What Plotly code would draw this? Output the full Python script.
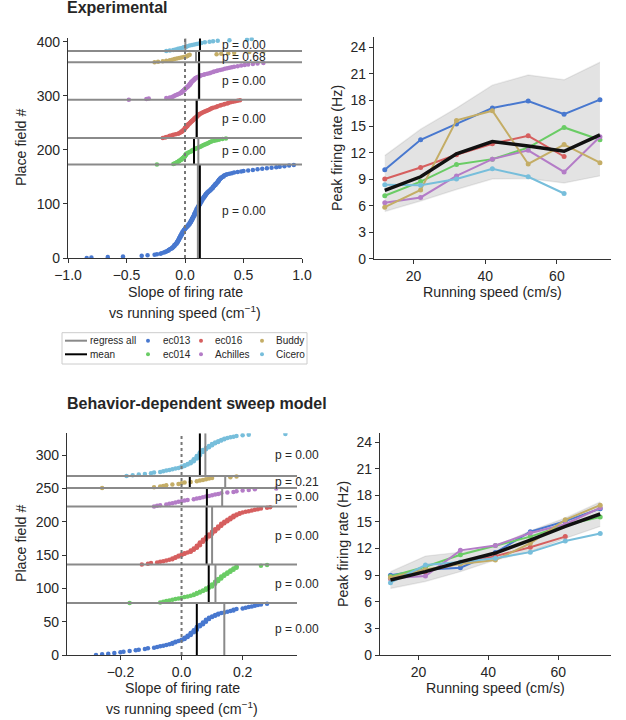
import plotly.graph_objects as go

W, H = 626, 720

animals = ["ec013", "ec014", "ec016", "Achilles", "Buddy", "Cicero"]
colors = ["#4878CF", "#6ACC65", "#D65F5F", "#B47CC7", "#C4AD66", "#77BEDB"]

# ---------------- Experimental: sorted slopes per animal ----------------
exp_ec013 = [-0.84, -0.80, -0.66, -0.53, -0.37, -0.32, -0.26, -0.24, -0.21, -0.20,
             -0.18, -0.17, -0.16, -0.15, -0.14, -0.14, -0.13, -0.12, -0.11, -0.11,
             -0.10, -0.10, -0.09, -0.09, -0.09, -0.08, -0.08, -0.07, -0.07, -0.07,
             -0.06, -0.06, -0.06, -0.06, -0.05, -0.05, -0.05, -0.05, -0.04, -0.04,
             -0.04, -0.04, -0.03, -0.03, -0.03, -0.03, -0.02, -0.02, -0.02, -0.02,
             -0.01, -0.01, -0.01, 0.00, 0.00, 0.00, 0.01, 0.01, 0.02, 0.02,
             0.03, 0.03, 0.03, 0.04, 0.04, 0.04, 0.05, 0.05, 0.05, 0.05,
             0.06, 0.06, 0.06, 0.06, 0.07, 0.07, 0.07, 0.07, 0.08, 0.08,
             0.08, 0.08, 0.08, 0.09, 0.09, 0.09, 0.09, 0.10, 0.10, 0.10,
             0.10, 0.10, 0.11, 0.11, 0.11, 0.11, 0.12, 0.12, 0.12, 0.12,
             0.13, 0.13, 0.13, 0.13, 0.14, 0.14, 0.14, 0.14, 0.15, 0.15,
             0.15, 0.16, 0.16, 0.16, 0.17, 0.17, 0.17, 0.18, 0.18, 0.18,
             0.19, 0.19, 0.20, 0.20, 0.21, 0.21, 0.22, 0.22, 0.23, 0.23,
             0.24, 0.24, 0.24, 0.25, 0.25, 0.26, 0.26, 0.26, 0.27, 0.27,
             0.28, 0.28, 0.28, 0.29, 0.29, 0.29, 0.30, 0.30, 0.31, 0.31,
             0.32, 0.33, 0.33, 0.34, 0.35, 0.36, 0.38, 0.40, 0.42, 0.45,
             0.48, 0.50, 0.54, 0.58, 0.62, 0.66, 0.70, 0.74, 0.78, 0.81,
             0.85, 0.89, 0.93]
exp_ec014 = [-0.24, -0.10, -0.09, -0.08, -0.07, -0.06, -0.05, -0.05, -0.04, -0.03,
             -0.03, -0.02, -0.02, -0.01, -0.01, 0.00, 0.00, 0.00, 0.01, 0.01,
             0.01, 0.02, 0.03, 0.04, 0.05, 0.06, 0.06, 0.07, 0.08, 0.09,
             0.10, 0.11, 0.12, 0.13, 0.14, 0.15, 0.16, 0.17, 0.18, 0.19,
             0.20, 0.21, 0.22, 0.23, 0.25, 0.27, 0.29, 0.32, 0.35]
exp_ec016 = [-0.19, -0.17, -0.16, -0.14, -0.13, -0.11, -0.10, -0.08, -0.06, -0.05,
             -0.04, -0.03, -0.03, -0.02, -0.02, -0.01, -0.01, 0.00, 0.00, 0.00,
             0.01, 0.01, 0.02, 0.02, 0.02, 0.03, 0.03, 0.04, 0.04, 0.05,
             0.05, 0.06, 0.06, 0.07, 0.07, 0.08, 0.08, 0.09, 0.09, 0.10,
             0.10, 0.11, 0.11, 0.12, 0.12, 0.13, 0.14, 0.15, 0.16, 0.17,
             0.18, 0.19, 0.20, 0.21, 0.22, 0.23, 0.24, 0.26, 0.27, 0.28,
             0.30, 0.31, 0.33, 0.34, 0.36, 0.37, 0.39, 0.41, 0.43, 0.45, 0.47]
exp_achilles = [-0.48, -0.33, -0.31, -0.16, -0.13, -0.11, -0.10, -0.09, -0.08, -0.07,
                -0.06, -0.05, -0.04, -0.03, -0.03, -0.02, -0.02, -0.01, -0.01, 0.00,
                0.00, 0.01, 0.01, 0.02, 0.02, 0.03, 0.03, 0.04, 0.04, 0.04,
                0.05, 0.05, 0.05, 0.06, 0.06, 0.07, 0.07, 0.08, 0.08, 0.09,
                0.09, 0.10, 0.11, 0.12, 0.13, 0.14, 0.16, 0.17, 0.19, 0.21,
                0.22, 0.24, 0.25, 0.27, 0.28, 0.30, 0.32, 0.34, 0.36, 0.38,
                0.40, 0.42, 0.45, 0.48, 0.51, 0.54, 0.58, 0.62, 0.67]
exp_buddy = [-0.26, -0.23, -0.19, -0.16, -0.13, -0.11, -0.09, -0.07, -0.05, -0.03,
             -0.01, 0.01, 0.02, 0.03, 0.04, 0.27, 0.31, 0.37, 0.42, 0.55, 0.67]
exp_cicero = [-0.16, -0.13, -0.10, -0.08, -0.06, -0.04, -0.02, -0.01, 0.01, 0.02,
              0.04, 0.06, 0.08, 0.10, 0.12, 0.14, 0.17, 0.21, 0.24, 0.28,
              0.38, 0.53, 0.57]
exp_slopes = [exp_ec013, exp_ec014, exp_ec016, exp_achilles, exp_buddy, exp_cicero]
exp_regress = [0.110, 0.114, 0.100, 0.118, 0.094, 0.003]
exp_mean = [0.127, 0.077, 0.100, 0.121, 0.120, 0.128]
exp_p = ["0.00", "0.00", "0.00", "0.00", "0.68", "0.00"]

# ---------------- Model: sorted slopes per animal ----------------
mod_ec013 = [-0.28, -0.26, -0.24, -0.22, -0.20, -0.19, -0.17, -0.15, -0.14, -0.12,
             -0.11, -0.09, -0.08, -0.07, -0.06, -0.05, -0.04, -0.03, -0.03, -0.02,
             -0.02, -0.01, 0.00, 0.00, 0.01, 0.01, 0.01, 0.02, 0.02, 0.02,
             0.03, 0.03, 0.03, 0.03, 0.04, 0.04, 0.04, 0.04, 0.05, 0.05,
             0.05, 0.05, 0.05, 0.06, 0.06, 0.06, 0.07, 0.07, 0.07, 0.07,
             0.08, 0.08, 0.08, 0.08, 0.09, 0.09, 0.09, 0.10, 0.10, 0.11,
             0.11, 0.12, 0.12, 0.13, 0.14, 0.15, 0.16, 0.17, 0.17, 0.18,
             0.20, 0.21, 0.22, 0.23, 0.24, 0.25, 0.26, 0.28]
mod_ec014 = [-0.17, -0.07, -0.06, -0.05, -0.04, -0.03, -0.02, -0.01, 0.00, 0.01,
             0.02, 0.03, 0.04, 0.04, 0.05, 0.05, 0.06, 0.06, 0.07, 0.07,
             0.08, 0.08, 0.08, 0.09, 0.09, 0.10, 0.10, 0.10, 0.10, 0.11,
             0.11, 0.11, 0.11, 0.12, 0.12, 0.12, 0.12, 0.13, 0.13, 0.13,
             0.13, 0.14, 0.14, 0.14, 0.15, 0.15, 0.15, 0.16, 0.16, 0.16,
             0.17, 0.17, 0.17, 0.18, 0.18, 0.18, 0.26, 0.28]
mod_ec016 = [-0.13, -0.11, -0.10, -0.08, -0.07, -0.06, -0.05, -0.04, -0.03, -0.03,
             -0.02, -0.02, -0.01, -0.01, 0.00, 0.00, 0.01, 0.01, 0.02, 0.03,
             0.03, 0.03, 0.04, 0.04, 0.04, 0.05, 0.05, 0.05, 0.05, 0.06,
             0.06, 0.06, 0.06, 0.06, 0.07, 0.07, 0.07, 0.07, 0.08, 0.08,
             0.08, 0.08, 0.09, 0.09, 0.09, 0.09, 0.10, 0.10, 0.10, 0.10,
             0.11, 0.11, 0.11, 0.11, 0.12, 0.12, 0.12, 0.12, 0.13, 0.13,
             0.13, 0.13, 0.14, 0.14, 0.14, 0.15, 0.15, 0.15, 0.16, 0.16,
             0.16, 0.17, 0.17, 0.17, 0.18, 0.18, 0.19, 0.19, 0.20, 0.21,
             0.22, 0.23, 0.24, 0.25, 0.26, 0.28, 0.29]
mod_achilles = [-0.09, -0.08, -0.07, -0.05, -0.04, -0.03, -0.02, -0.01, 0.00, 0.01,
                0.02, 0.04, 0.05, 0.06, 0.07, 0.08, 0.09, 0.10, 0.11, 0.12,
                0.13, 0.15, 0.17, 0.18, 0.20, 0.22, 0.24, 0.31]
mod_buddy = [-0.26, -0.09, -0.07, -0.06, -0.05, -0.03, -0.01, 0.00, 0.01, 0.03,
             0.05, 0.06, 0.07, 0.08, 0.09, 0.10, 0.16, 0.18]
mod_cicero = [-0.18, -0.16, -0.14, -0.12, -0.10, -0.09, -0.07, -0.06, -0.05, -0.04,
              -0.03, -0.02, -0.01, 0.00, 0.00, 0.01, 0.01, 0.02, 0.02, 0.03,
              0.03, 0.03, 0.04, 0.04, 0.04, 0.04, 0.05, 0.05, 0.05, 0.05,
              0.05, 0.06, 0.06, 0.06, 0.06, 0.06, 0.07, 0.07, 0.07, 0.07,
              0.08, 0.08, 0.08, 0.09, 0.09, 0.09, 0.10, 0.10, 0.10, 0.11,
              0.11, 0.12, 0.12, 0.13, 0.13, 0.14, 0.14, 0.15, 0.16, 0.17,
              0.18, 0.20, 0.22, 0.34]
mod_slopes = [mod_ec013, mod_ec014, mod_ec016, mod_achilles, mod_buddy, mod_cicero]
mod_regress = [0.140, 0.111, 0.100, 0.133, 0.143, 0.078]
mod_mean = [0.050, 0.089, 0.082, 0.083, 0.027, 0.060]
mod_p = ["0.00", "0.00", "0.00", "0.00", "0.21", "0.00"]

# ---------------- Peak firing rate vs running speed ----------------
speeds = [12, 22, 32, 42, 52, 62, 72]
exp_rates = [
    [10.1, 13.5, 15.3, 17.1, 17.9, 16.4, 18.05],
    [7.15, 8.75, 10.7, 11.3, 12.6, 14.9, 13.5],
    [9.05, 10.35, 11.8, 13.05, 13.95, 11.6],
    [6.35, 6.95, 9.4, 11.3, 12.3, 9.85, 13.85],
    [5.85, 7.8, 15.7, 16.8, 10.75, 12.95, 10.9],
    [8.4, 8.35, 9.05, 10.2, 9.3, 7.4],
]
exp_rate_mean = [7.75, 9.3, 11.9, 13.3, 12.8, 12.2, 14.05]
exp_rate_upper = [11.7, 14.7, 17.1, 19.7, 20.85, 20.3, 22.3]
exp_rate_lower = [5.35, 6.55, 7.85, 9.05, 9.1, 8.6, 9.4]

mod_rates = [
    [9.0, 9.6, 9.85, 11.55, 13.9, 15.1, 16.5],
    [8.85, 9.95, 11.3, 12.35, 13.35, 14.65, 15.55],
    [8.6, 9.4, 10.35, 11.15, 12.15, 13.35],
    [8.65, 8.9, 11.8, 12.35, 13.75, 14.75, 16.6],
    [8.75, 9.65, 10.25, 10.7, 12.6, 15.25, 16.9],
    [8.15, 10.15, 10.5, 10.9, 11.6, 12.85, 13.7],
]
mod_rate_mean = [8.45, 9.4, 10.5, 11.5, 12.95, 14.5, 15.9]
mod_rate_upper = [9.4, 11.15, 11.6, 12.25, 14.0, 15.45, 17.25]
mod_rate_lower = [7.5, 8.3, 9.4, 10.7, 11.65, 13.15, 14.5]

rate_ticks = [0, 3, 6, 9, 12, 15, 18, 21, 24]
speed_ticks = [20, 40, 60]

# ---------------- styling ----------------
FONT = "Liberation Sans, Arial, sans-serif"
TXT = "#262626"
AX = "#333333"
GRAY = "#8a8a8a"
TICK = 14
LAB = 14.2


def px(xp):
    return xp / W


def py(yp):
    return 1 - yp / H


fig = go.Figure()


def add_slope_panel(slopes, regress, means, pvals, xa, ya):
    start = 0
    for k, vals in enumerate(slopes):
        n = len(vals)
        end = start + n
        fig.add_trace(go.Scatter(
            x=vals, y=[start + i for i in range(n)], mode="markers",
            marker=dict(size=4.5, color=colors[k], line=dict(width=0)),
            xaxis=xa, yaxis=ya, showlegend=False, hoverinfo="skip"))
        fig.add_trace(go.Scatter(
            x=[regress[k], regress[k]], y=[start, end], mode="lines",
            line=dict(color=GRAY, width=2), xaxis=xa, yaxis=ya,
            showlegend=False, hoverinfo="skip"))
        fig.add_trace(go.Scatter(
            x=[means[k], means[k]], y=[start, end], mode="lines",
            line=dict(color="black", width=2), xaxis=xa, yaxis=ya,
            showlegend=False, hoverinfo="skip"))
        fig.add_annotation(
            x=0.30, y=(start + end) / 2, xref=xa, yref=ya,
            text="p = " + pvals[k], showarrow=False, xanchor="left",
            yanchor="middle", font=dict(family=FONT, size=12, color=TXT))
        if k < len(slopes) - 1:
            fig.add_shape(type="line", xref=xa + " domain", yref=ya,
                          x0=0, x1=1, y0=end, y1=end,
                          line=dict(color=GRAY, width=2), layer="above")
        start = end
    fig.add_shape(type="line", xref=xa, yref=ya + " domain",
                  x0=0, x1=0, y0=0, y1=1,
                  line=dict(color="#777777", width=2, dash="dot"), layer="above")


def add_rate_panel(rates, mean, upper, lower, xa, ya):
    fig.add_trace(go.Scatter(
        x=speeds, y=upper, mode="lines", line=dict(color="rgba(0,0,0,0.07)", width=1.5),
        xaxis=xa, yaxis=ya, showlegend=False, hoverinfo="skip"))
    fig.add_trace(go.Scatter(
        x=speeds, y=lower, mode="lines", line=dict(color="rgba(0,0,0,0.07)", width=1.5),
        fill="tonexty", fillcolor="rgba(0,0,0,0.11)",
        xaxis=xa, yaxis=ya, showlegend=False, hoverinfo="skip"))
    for k, r in enumerate(rates):
        fig.add_trace(go.Scatter(
            x=speeds[:len(r)], y=r, mode="lines+markers",
            line=dict(color=colors[k], width=2),
            marker=dict(size=5, color=colors[k]),
            xaxis=xa, yaxis=ya, showlegend=False, hoverinfo="skip"))
    fig.add_trace(go.Scatter(
        x=speeds, y=mean, mode="lines", line=dict(color="#111111", width=3.5),
        xaxis=xa, yaxis=ya, showlegend=False, hoverinfo="skip"))


add_slope_panel(exp_slopes, exp_regress, exp_mean, exp_p, "x", "y")
add_rate_panel(exp_rates, exp_rate_mean, exp_rate_upper, exp_rate_lower, "x2", "y2")
add_slope_panel(mod_slopes, mod_regress, mod_mean, mod_p, "x3", "y3")
add_rate_panel(mod_rates, mod_rate_mean, mod_rate_upper, mod_rate_lower, "x4", "y4")

axis_common = dict(showline=True, linecolor=AX, linewidth=1.25, ticks="outside",
                   ticklen=4, tickwidth=1.25, tickcolor=AX, showgrid=False,
                   zeroline=False, automargin=False,
                   tickfont=dict(family=FONT, size=TICK, color=TXT))

fig.update_layout(
    width=W, height=H, autosize=False, margin=dict(l=0, r=0, t=0, b=0, pad=0),
    paper_bgcolor="white", plot_bgcolor="white", showlegend=False,
    font=dict(family=FONT, color=TXT),
    xaxis=dict(domain=[px(68), px(302)], range=[-1.0, 1.0], anchor="y",
               tickvals=[-1.0, -0.5, 0.0, 0.5, 1.0], tickformat=".1f", **axis_common),
    yaxis=dict(domain=[py(258), py(37.5)], range=[0, 408], anchor="x",
               tickvals=[0, 100, 200, 300, 400], **axis_common),
    xaxis2=dict(domain=[px(374), px(610.7)], range=[9, 75], anchor="y2",
                tickvals=speed_ticks, **axis_common),
    yaxis2=dict(domain=[py(258.7), py(37.3)], range=[0, 25.13], anchor="x2",
                tickvals=rate_ticks, **axis_common),
    xaxis3=dict(domain=[px(67), px(297)], range=[-0.375, 0.378], anchor="y3",
                tickvals=[-0.2, 0.0, 0.2], tickformat=".1f", **axis_common),
    yaxis3=dict(domain=[py(655), py(433.3)], range=[0, 333], anchor="x3",
                tickvals=[0, 50, 100, 150, 200, 250, 300], **axis_common),
    xaxis4=dict(domain=[px(380), px(610.7)], range=[9, 75], anchor="y4",
                tickvals=speed_ticks, **axis_common),
    yaxis4=dict(domain=[py(655), py(433.3)], range=[0, 25.0], anchor="x4",
                tickvals=rate_ticks, **axis_common),
)


def ann(text, xp, yp, size=LAB, bold=False, xanchor="center", angle=0):
    fig.add_annotation(
        x=px(xp), y=py(yp), xref="paper", yref="paper", text=text,
        showarrow=False, xanchor=xanchor, yanchor="middle", textangle=angle,
        font=dict(family=FONT, size=size, color=TXT,
                  weight="bold" if bold else "normal"))


# titles
ann("Experimental", 65, 8, size=16, bold=True, xanchor="left")
ann("Behavior-dependent sweep model", 65, 403, size=16, bold=True, xanchor="left")

# axis titles
ann("Slope of firing rate", 185, 291.5)
ann("vs running speed (cm<sup>−1</sup>)", 185, 311.5)
ann("Slope of firing rate", 182, 688)
ann("vs running speed (cm<sup>−1</sup>)", 182, 708)
ann("Running speed (cm/s)", 492, 292)
ann("Running speed (cm/s)", 495, 688)
ann("Place field #", 21, 148, angle=-90)
ann("Place field #", 21, 544, angle=-90)
ann("Peak firing rate (Hz)", 337, 148, angle=-90)
ann("Peak firing rate (Hz)", 343, 544, angle=-90)

# legend (manual, 4 columns x 2 rows)
fig.add_shape(type="rect", xref="paper", yref="paper",
              x0=px(62), x1=px(307), y0=py(364), y1=py(332.7),
              line=dict(color="#cccccc", width=1), fillcolor="white")
row_y = [340.7, 354.3]
leg_lines = [("regress all", GRAY), ("mean", "black")]
for (label, col), yy in zip(leg_lines, row_y):
    fig.add_shape(type="line", xref="paper", yref="paper",
                  x0=px(65), x1=px(87), y0=py(yy), y1=py(yy),
                  line=dict(color=col, width=2))
    ann(label, 88, yy, size=10, xanchor="left")
marker_x = [148, 201, 262]
text_x = [161, 213.3, 274]
for k, name in enumerate(animals):
    c = k // 2
    r = k % 2
    mx, yy = marker_x[c], row_y[r]
    fig.add_shape(type="circle", xref="paper", yref="paper",
                  x0=px(mx - 2), x1=px(mx + 2), y0=py(yy + 2), y1=py(yy - 2),
                  line=dict(width=0), fillcolor=colors[k])
    ann(name, text_x[c], yy, size=10, xanchor="left")

fig.write_html(
    "out.html",
    config={"displayModeBar": False},
    post_script="document.body.style.margin='0';"
                "document.documentElement.style.overflow='hidden';"
                "document.body.style.overflow='hidden';")
